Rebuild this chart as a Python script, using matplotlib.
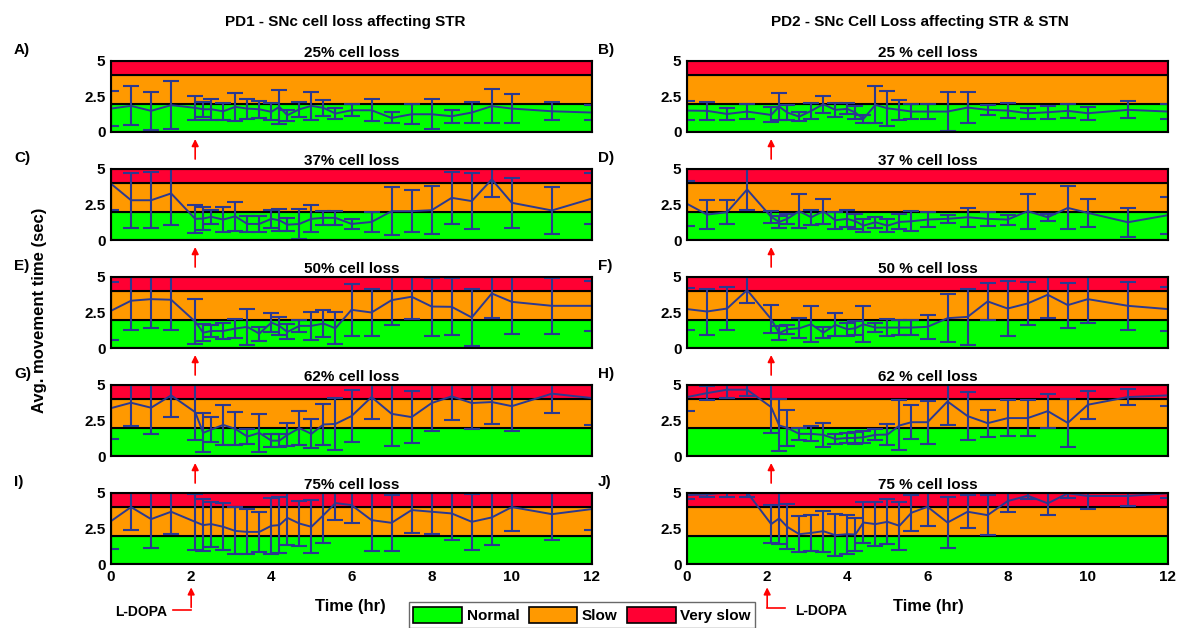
import matplotlib
matplotlib.use("Agg")
import matplotlib.pyplot as plt
from matplotlib.patches import Patch

plt.rcParams['font.family'] = ['Liberation Sans', 'DejaVu Sans']
plt.rcParams['font.weight'] = 'bold'

# sampling times (hr)
t = [0, 0.5, 1, 1.5, 2.1, 2.3, 2.5, 2.8, 3.1, 3.4, 3.7, 4.0, 4.2, 4.4, 4.7,
     5.0, 5.3, 5.6, 6, 6.5, 7, 7.5, 8, 8.5, 9, 9.5, 10, 11, 12]

# PD1 - SNc cell loss affecting STR
pd1_25_mean = [1.65, 1.84, 1.49, 1.89, 1.70, 1.60, 1.60, 1.46, 1.77, 1.65, 1.60, 1.42, 1.77, 1.18, 1.60,
               1.84, 1.70, 1.30, 1.53, 1.53, 0.99, 1.25, 1.25, 1.11, 1.37, 1.82, 1.65, 1.46, 1.37]
pd1_25_err = [1.26, 1.38, 1.36, 1.70, 0.85, 0.52, 0.73, 0.61, 1.01, 0.70, 0.61, 0.59, 1.18, 0.38, 0.54,
              0.98, 0.57, 0.38, 0.41, 0.77, 0.39, 0.71, 1.06, 0.47, 0.73, 1.20, 1.00, 0.63, 0.50]
pd1_37_mean = [3.96, 2.80, 2.80, 3.28, 1.49, 1.51, 1.63, 1.44, 1.67, 1.13, 1.13, 1.49, 1.39, 1.08, 1.13,
               1.49, 1.56, 1.56, 1.13, 1.27, 2.03, 2.03, 2.10, 2.97, 2.74, 4.27, 2.62, 2.08, 2.92]
pd1_37_err = [1.86, 1.95, 1.97, 2.20, 0.98, 0.83, 0.47, 0.91, 1.04, 0.57, 0.57, 0.65, 0.77, 0.47, 1.05,
              0.94, 0.50, 0.50, 0.38, 0.70, 1.69, 1.47, 1.69, 1.83, 1.98, 1.23, 1.77, 1.67, 1.77]
pd1_50_mean = [2.62, 3.33, 3.44, 3.40, 1.86, 1.08, 1.20, 1.20, 1.37, 1.49, 1.01, 1.79, 1.56, 1.13, 1.56,
               1.56, 1.72, 1.39, 2.69, 2.50, 3.37, 3.61, 2.92, 2.90, 2.15, 3.84, 3.25, 2.97, 2.97]
pd1_50_err = [2.04, 2.06, 2.05, 2.13, 1.59, 0.61, 0.45, 0.57, 0.67, 1.27, 0.50, 0.65, 0.65, 0.53, 0.44,
              0.99, 0.96, 1.12, 1.83, 1.63, 1.74, 1.58, 2.04, 2.00, 1.98, 1.76, 2.28, 1.95, 1.74]
pd1_62_mean = [3.37, 3.75, 3.40, 4.27, 3.09, 1.63, 1.86, 2.19, 1.91, 1.37, 1.63, 1.08, 1.08, 1.49, 1.96,
               1.56, 2.22, 2.26, 2.81, 4.15, 2.97, 2.74, 3.73, 4.20, 3.73, 3.80, 3.51, 4.39, 4.08]
pd1_62_err = [2.20, 1.67, 1.84, 1.53, 1.97, 1.38, 0.88, 1.42, 1.17, 0.50, 1.32, 0.44, 0.47, 0.80, 1.18,
              1.03, 1.47, 1.85, 1.83, 1.53, 2.24, 1.85, 2.00, 1.65, 1.82, 1.58, 1.72, 1.37, 1.93]
pd1_75_mean = [3.02, 4.01, 3.16, 3.68, 2.97, 2.74, 2.81, 2.62, 2.33, 2.26, 2.26, 2.69, 2.74, 3.25, 2.85,
               2.62, 3.44, 4.29, 4.15, 3.09, 2.90, 3.80, 3.68, 3.56, 2.97, 3.28, 4.01, 3.51, 3.87]
pd1_75_err = [1.95, 1.63, 2.03, 1.60, 1.96, 1.85, 1.59, 1.65, 1.66, 1.59, 1.42, 1.97, 2.00, 1.88, 1.58,
              1.86, 1.93, 1.20, 1.23, 2.17, 1.97, 1.61, 1.58, 1.84, 1.98, 1.96, 1.70, 1.84, 1.49]

# PD2 - SNc cell loss affecting STR & STN
pd2_25_mean = [1.51, 1.49, 1.27, 1.44, 1.20, 1.79, 1.37, 1.08, 1.49, 1.96, 1.56, 1.63, 1.37, 0.92, 1.91,
               1.67, 1.56, 1.44, 1.44, 1.44, 1.72, 1.56, 1.51, 1.32, 1.39, 1.49, 1.32, 1.56, 1.44]
pd2_25_err = [0.65, 0.65, 0.44, 0.55, 0.53, 0.97, 0.55, 0.32, 0.55, 0.61, 0.47, 0.39, 0.47, 0.29, 1.31,
              1.24, 0.70, 0.50, 0.50, 1.36, 1.12, 0.33, 0.53, 0.39, 0.45, 0.51, 0.45, 0.59, 0.53]
pd2_37_mean = [2.55, 1.79, 1.96, 3.56, 1.63, 1.27, 1.49, 2.03, 1.60, 2.03, 1.39, 1.49, 1.32, 1.01, 1.25,
               1.01, 1.27, 1.32, 1.44, 1.49, 1.60, 1.49, 1.44, 2.03, 1.60, 2.26, 1.91, 1.25, 1.75]
pd2_37_err = [1.57, 1.04, 0.83, 1.46, 0.44, 0.45, 0.37, 1.20, 0.53, 0.88, 0.61, 0.59, 0.53, 0.47, 0.38,
              0.48, 0.53, 0.70, 0.55, 0.29, 0.65, 0.50, 0.35, 1.24, 0.26, 1.51, 0.97, 1.01, 1.31]
pd2_50_mean = [2.74, 2.57, 2.78, 4.08, 2.03, 1.04, 1.32, 1.39, 1.67, 1.08, 1.63, 1.32, 1.39, 1.67, 1.44,
               1.44, 1.44, 1.44, 1.49, 2.10, 2.19, 3.28, 2.78, 3.14, 3.75, 3.02, 3.44, 2.97, 2.74]
pd2_50_err = [1.50, 1.62, 1.51, 0.90, 1.00, 0.50, 0.32, 0.72, 1.26, 0.41, 0.80, 0.47, 0.50, 1.26, 0.34,
              0.57, 0.50, 0.50, 0.86, 1.71, 1.98, 1.30, 1.95, 1.53, 1.65, 1.58, 1.65, 1.69, 1.53]
pd2_62_mean = [4.15, 4.43, 4.67, 4.67, 3.44, 2.15, 1.98, 1.56, 1.56, 1.49, 1.20, 1.27, 1.27, 1.32, 1.49,
               1.51, 2.15, 2.38, 2.38, 3.84, 2.81, 2.31, 2.67, 2.67, 3.16, 2.33, 3.61, 4.15, 4.27]
pd2_62_err = [1.00, 0.52, 0.59, 0.47, 1.81, 1.83, 1.26, 0.44, 0.53, 0.83, 0.38, 0.38, 0.44, 0.41, 0.38,
              0.73, 1.76, 1.18, 1.50, 1.69, 1.67, 0.94, 1.29, 1.29, 1.18, 1.69, 0.97, 0.57, 0.77]
pd2_75_mean = [4.85, 4.90, 5.05, 5.05, 2.81, 3.21, 2.62, 2.10, 2.19, 2.31, 2.03, 2.10, 2.08, 2.92, 2.81,
               2.97, 2.69, 3.61, 4.03, 2.92, 3.68, 3.44, 4.43, 4.81, 4.27, 4.98, 4.79, 4.79, 4.98]
pd2_75_err = [0.25, 0.20, 0.30, 0.30, 1.32, 1.77, 1.59, 1.26, 1.26, 1.45, 1.49, 1.38, 1.18, 1.46, 1.53,
              1.59, 1.69, 1.26, 1.36, 1.80, 1.17, 1.41, 0.80, 0.20, 0.83, 0.30, 0.95, 0.69, 0.30]

band_labels = ["Normal", "Slow", "Very slow"]
band_edges = [0, 2, 4, 5]
band_colors = ["#00ff00", "#ff9900", "#ff0033"]
line_color = "#2b3990"

left_titles = ["25% cell loss", "37% cell loss", "50% cell loss", "62% cell loss", "75% cell loss"]
right_titles = ["25 % cell loss", "37 % cell loss", "50 % cell loss", "62 % cell loss", "75 % cell loss"]
left_labels = ["A)", "C)", "E)", "G)", "I)"]
right_labels = ["B)", "D)", "F)", "H)", "J)"]
left_data = [(pd1_25_mean, pd1_25_err), (pd1_37_mean, pd1_37_err), (pd1_50_mean, pd1_50_err),
             (pd1_62_mean, pd1_62_err), (pd1_75_mean, pd1_75_err)]
right_data = [(pd2_25_mean, pd2_25_err), (pd2_37_mean, pd2_37_err), (pd2_50_mean, pd2_50_err),
              (pd2_62_mean, pd2_62_err), (pd2_75_mean, pd2_75_err)]

W, H = 1185, 628
fig = plt.figure(figsize=(W / 100, H / 100), dpi=100)

col_x = [111, 687]
col_w = 481
row_bottom = [132, 240, 348, 456, 564]
ax_h = 71


def draw_panel(ax, mean, err, title, last):
    for i in range(3):
        ax.axhspan(band_edges[i], band_edges[i + 1], facecolor=band_colors[i],
                   edgecolor="black", linewidth=1.5, zorder=1)
    ax.errorbar(t, mean, yerr=err, color=line_color, lw=1.4, capsize=6,
                capthick=1.5, elinewidth=1.5, zorder=3)
    ax.set_xlim(0, 12)
    ax.set_ylim(0, 5)
    ax.set_yticks([0, 2.5, 5])
    ax.set_yticklabels(["0", "2.5", "5"])
    ax.tick_params(axis="both", labelsize=11, length=0, pad=4)
    for s in ax.spines.values():
        s.set_linewidth(1.5)
        s.set_zorder(4)
    ax.set_title(title, fontsize=11, fontweight="bold", pad=3)
    if last:
        ax.set_xticks(range(0, 13, 2))
    else:
        ax.set_xticks([])


for c in range(2):
    titles = left_titles if c == 0 else right_titles
    labels = left_labels if c == 0 else right_labels
    data = left_data if c == 0 else right_data
    for r in range(5):
        pos = [col_x[c] / W, 1 - row_bottom[r] / H, col_w / W, ax_h / H]
        ax = fig.add_axes(pos)
        draw_panel(ax, data[r][0], data[r][1], titles[r], r == 4)
        fig.text((col_x[c] - 97 if c == 0 else col_x[c] - 89) / W,
                 1 - (row_bottom[r] - 82) / H, labels[r], fontsize=11,
                 fontweight="bold", va="center")
        if r < 4:
            ax.annotate("", xy=(2.1, -0.06), xycoords=("data", "axes fraction"),
                        xytext=(2.1, -0.42), textcoords=("data", "axes fraction"),
                        arrowprops=dict(arrowstyle="-|>", color="red", lw=1.2,
                                        mutation_scale=10))
        else:
            ax.annotate("", xy=(2, -0.29), xycoords=("data", "axes fraction"),
                        xytext=(2, -0.65), textcoords=("data", "axes fraction"),
                        arrowprops=dict(arrowstyle="-|>", color="red", lw=1.2,
                                        mutation_scale=10))
            if c == 0:
                ax.plot([1.55, 2], [-0.65, -0.65], color="red", lw=1.2,
                        transform=ax.get_xaxis_transform(), clip_on=False)
                ax.text(1.4, -0.68, "L-DOPA", transform=ax.get_xaxis_transform(),
                        ha="right", va="center", fontsize=10, fontweight="bold")
            else:
                ax.plot([2, 2.45], [-0.62, -0.62], color="red", lw=1.2,
                        transform=ax.get_xaxis_transform(), clip_on=False)
                ax.text(2.7, -0.66, "L-DOPA", transform=ax.get_xaxis_transform(),
                        ha="left", va="center", fontsize=10, fontweight="bold")

fig.text(345 / W, 1 - 22 / H, "PD1 - SNc cell loss affecting STR", ha="center",
         va="center", fontsize=11, fontweight="bold")
fig.text(920 / W, 1 - 22 / H, "PD2 - SNc Cell Loss affecting STR & STN", ha="center",
         va="center", fontsize=11, fontweight="bold")
fig.text(40 / W, 1 - 310 / H, "Avg. movement time (sec)", rotation=90, ha="center",
         va="center", fontsize=12, fontweight="bold")
fig.text(350 / W, 1 - 606 / H, "Time (hr)", ha="center", va="center", fontsize=12,
         fontweight="bold")
fig.text(928 / W, 1 - 606 / H, "Time (hr)", ha="center", va="center", fontsize=12,
         fontweight="bold")

handles = [Patch(facecolor=band_colors[i], edgecolor="black", lw=1.2) for i in range(3)]
leg = fig.legend(handles, band_labels, loc="center", bbox_to_anchor=(582 / W, 1 - 615 / H),
                 ncol=3, fontsize=11, frameon=True, fancybox=False, edgecolor="#444444",
                 handlelength=3.2, handleheight=1.3, columnspacing=0.6, handletextpad=0.3,
                 borderpad=0.3)
leg.get_frame().set_linewidth(1.0)

fig.savefig("out.png", dpi=100)
